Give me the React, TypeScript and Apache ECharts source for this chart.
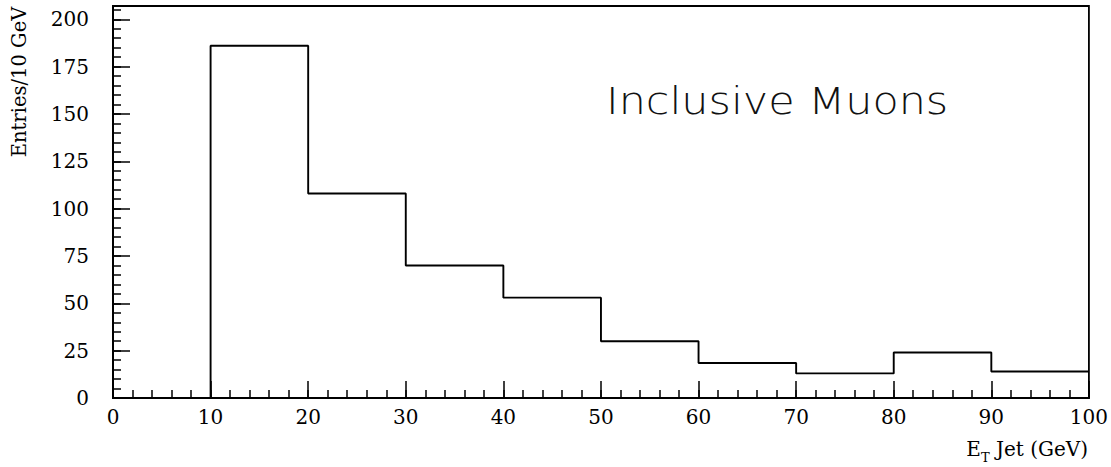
import React, { useEffect, useRef } from "react";
import * as echarts from "echarts";

// Bin left edges (GeV) and entries per 10 GeV
const binLeft = [10, 20, 30, 40, 50, 60, 70, 80, 90];
const binWidth = 10;
const entries = [186, 108, 70, 53, 30, 18.5, 13, 24, 14];

const xMajorTicks = [0, 10, 20, 30, 40, 50, 60, 70, 80, 90, 100];
const yMajorTicks = [0, 25, 50, 75, 100, 125, 150, 175, 200];

const X_MIN = 0;
const X_MAX = 100;
const Y_MIN = 0;
const Y_MAX = 207;

const serif = "'DejaVu Serif', 'Liberation Serif', serif";
const ink = "#000";

export default function App() {
  const ref = useRef<HTMLDivElement>(null);

  useEffect(() => {
    if (!ref.current) return;
    const chart = echarts.init(ref.current, undefined, { renderer: "svg" });

    const stepData: [number, number][] = [[binLeft[0], 0]];
    binLeft.forEach((x, i) => stepData.push([x, entries[i]]));
    stepData.push([
      binLeft[binLeft.length - 1] + binWidth,
      entries[entries.length - 1],
    ]);

    const labelStyle = {
      fontFamily: serif,
      fontSize: 20,
      color: ink,
    };

    chart.setOption({
      animation: false,
      backgroundColor: "#fff",
      grid: {
        left: 113,
        right: 21,
        top: 6,
        bottom: 69,
        show: true,
        borderColor: ink,
        borderWidth: 1.8,
        backgroundColor: "transparent",
      },
      xAxis: [
        {
          type: "value",
          min: X_MIN,
          max: X_MAX,
          interval: 10,
          position: "bottom",
          axisLine: { show: true, lineStyle: { color: ink, width: 2 } },
          axisTick: {
            show: true,
            inside: true,
            length: 17,
            lineStyle: { color: ink, width: 1.5 },
          },
          axisLabel: {
            ...labelStyle,
            margin: 9,
            formatter: (v: number) =>
              xMajorTicks.includes(v) ? String(v) : "",
          },
          splitLine: { show: false },
        },
        {
          type: "value",
          min: X_MIN,
          max: X_MAX,
          interval: 2,
          position: "bottom",
          axisLine: { show: false },
          axisTick: {
            show: true,
            inside: true,
            length: 8,
            lineStyle: { color: ink, width: 1.5 },
          },
          axisLabel: { show: false },
          splitLine: { show: false },
        },
      ],
      yAxis: [
        {
          type: "value",
          min: Y_MIN,
          max: Y_MAX,
          interval: 25,
          position: "left",
          axisLine: { show: true, lineStyle: { color: ink, width: 2 } },
          axisTick: {
            show: true,
            inside: true,
            length: 17,
            lineStyle: { color: ink, width: 1.5 },
          },
          axisLabel: {
            ...labelStyle,
            margin: 24,
            formatter: (v: number) =>
              yMajorTicks.includes(v) ? String(v) : "",
          },
          splitLine: { show: false },
        },
        {
          type: "value",
          min: Y_MIN,
          max: Y_MAX,
          interval: 5,
          position: "left",
          axisLine: { show: false },
          axisTick: {
            show: true,
            inside: true,
            length: 8,
            lineStyle: { color: ink, width: 1.5 },
          },
          axisLabel: { show: false },
          splitLine: { show: false },
        },
      ],
      series: [
        {
          type: "line",
          xAxisIndex: 0,
          yAxisIndex: 0,
          step: "end",
          data: stepData,
          symbol: "none",
          lineStyle: { color: ink, width: 1.9 },
          silent: true,
        },
      ],
      graphic: [
        {
          type: "text",
          x: 19,
          y: 82,
          rotation: Math.PI / 2,
          style: {
            text: "Entries/10 GeV",
            fontFamily: serif,
            fontSize: 19.5,
            fill: ink,
            textAlign: "center",
            textVerticalAlign: "middle",
          },
        },
        {
          type: "text",
          x: 1088,
          y: 449,
          style: {
            text: "{e|E}{t|T}{r| Jet (GeV)}",
            fontFamily: serif,
            fill: ink,
            textAlign: "right",
            textVerticalAlign: "middle",
            rich: {
              e: { fontFamily: serif, fontSize: 20, lineHeight: 30, verticalAlign: "middle", fill: ink },
              t: { fontFamily: serif, fontSize: 13, lineHeight: 30, verticalAlign: "bottom", fill: ink },
              r: { fontFamily: serif, fontSize: 20, lineHeight: 30, verticalAlign: "middle", fill: ink },
            },
          },
        },
        {
          type: "text",
          x: 606,
          y: 101,
          scaleX: 1.16,
          style: {
            text: "Inclusive Muons",
            fontFamily: "'DejaVu Sans', sans-serif",
            fontWeight: 200,
            fontSize: 37,
            fill: "#111",
            textAlign: "left",
            textVerticalAlign: "middle",
          },
        },
      ],
    });

    return () => chart.dispose();
  }, []);

  return (
    <div
      ref={ref}
      style={{ position: "fixed", left: 0, top: 0, width: 1111, height: 467 }}
    />
  );
}
